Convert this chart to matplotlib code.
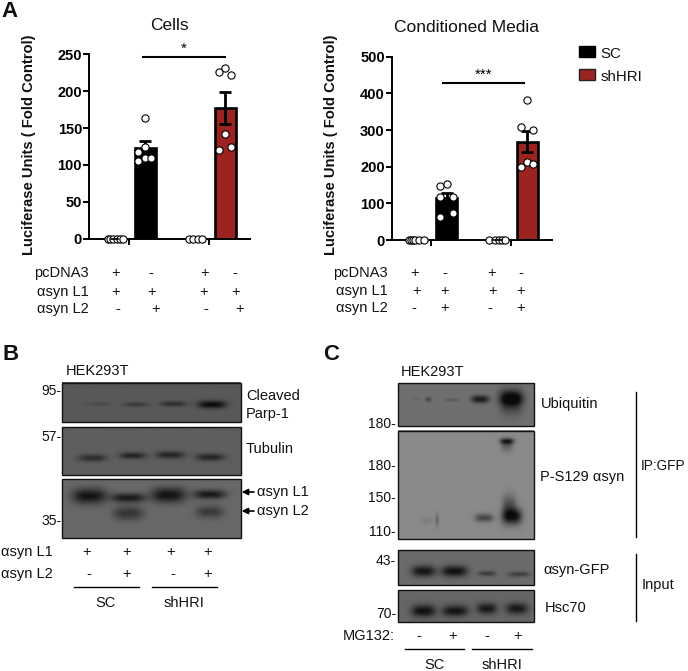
#!/usr/bin/env python3
import numpy as np
import matplotlib
matplotlib.use('Agg')
import matplotlib.pyplot as plt
from matplotlib.patches import Rectangle

plt.rcParams['font.family'] = ['Liberation Sans', 'DejaVu Sans']

W, H = 688, 671
RED = '#9b2320'

# bar charts: x slots are 0,1 (SC) and 2.67,3.67 (shHRI)
x_slots = [0, 1, 2.67, 3.67]
bar_colors = ['black', RED]

cells_means = [123, 177]
cells_err_hi = [132.5, 199]
cells_err_lo = [113, 155.5]
cells_ctrl1_x = [-0.25, -0.17, -0.08, 0.08, 0.17, 0.25]
cells_ctrl2_x = [-0.22, -0.07, 0.08, 0.23]
cells_pts1_x = [0, -0.22, 0, 0.2, -0.22, 0]
cells_pts1 = [164, 117, 110, 110, 105, 125]
cells_pts2_x = [-0.21, 0, 0.21, 0, -0.21, 0.21]
cells_pts2 = [225.6, 232, 221.5, 141.5, 120.7, 125]

media_means = [114, 267]
media_err_hi = [129, 298]
media_err_lo = [98, 239]
media_ctrl1_x = [-0.27, -0.2, -0.13, -0.05, 0.08, 0.25]
media_ctrl2_x = [-0.25, -0.08, 0.08, 0.17, 0.27]
media_pts1_x = [-0.21, 0, -0.21, 0.21, -0.21, 0.21]
media_pts1 = [148, 153.6, 116, 116, 63.6, 74.5]
media_pts2_x = [0, -0.21, 0.21, -0.21, 0, 0.21]
media_pts2 = [382.7, 307, 301, 199, 213, 208]

# blots: (x, y, sigma x, sigma y, strength) in figure pixels
blot_b1 = [(98, 404.3, 12, 1.8, .2), (136, 404.7, 12, 2.2, .4), (173.3, 404, 13, 2.6, .55), (211.7, 404.7, 14, 3.8, 1.0)]
blot_b2 = [(92.3, 458, 14, 3.5, .6), (132.7, 455.7, 13, 3.2, .7), (170, 455, 14, 3.5, .7), (210, 457.3, 14, 3.5, .7)]
blot_b3 = [(89.3, 496, 17, 7.5, .9), (128.3, 497.7, 17, 4.5, .85), (168.3, 495, 17, 7.5, .9), (209.3, 494.3, 16, 4.5, .85),
           (128.3, 513, 15, 7, .55), (209.3, 511.7, 14, 6, .5)]
blot_c1 = [(428.3, 399.3, 3, 2.5, .4), (416, 399.3, 5, 1.5, .1), (451.7, 400, 8, 2, .2), (480, 399.3, 9, 3.8, .85),
           (511, 398.3, 12, 8, 1.0), (511, 405, 11, 12, .35)]
blot_c2 = [(506.7, 441.7, 7, 3, .85), (506.7, 447, 6, 5, .3), (511.7, 516.7, 10, 8, 1.0), (509, 505, 7, 10, .4),
           (484, 518.3, 9, 4, .55), (436.7, 520.7, 2, 6, .25), (426.7, 521, 5, 3, .1)]
blot_c3 = [(423.3, 571, 12, 5.5, .9), (454.3, 571, 13, 5.5, .95), (486.7, 573.3, 9, 2.6, .5), (518.3, 574, 11, 2.6, .45)]
blot_c4 = [(423.3, 610.7, 12, 6, .95), (455, 610.7, 13, 5.5, .9), (486.7, 608.3, 10, 5.5, .85), (516.7, 608.3, 11, 5.5, .85)]

table_left = [('+', '-', '+', '-'), ('+', '+', '+', '+'), ('-', '+', '-', '+')]
table_names = ['pcDNA3', 'αsyn L1', 'αsyn L2']


def px_axes(fig, l, t, r, b):
    return fig.add_axes([l / W, 1 - b / H, (r - l) / W, (b - t) / H])


def bar_chart(fig, box, ymax, yticks, xlim, means, hi, lo, ctrl, pts, sig_x, sig_y, stars, ctrl_mark):
    ax = px_axes(fig, *box)
    ax.patch.set_alpha(0)
    ax.set_xlim(*xlim)
    ax.set_ylim(0, ymax)
    for i, c in enumerate(bar_colors):
        x = x_slots[2 * i + 1]
        ax.bar(x, means[i], width=0.7, color=c, edgecolor='black', linewidth=1.9, zorder=2)
        ax.errorbar(x, means[i], yerr=[[means[i] - lo[i]], [hi[i] - means[i]]], color='black',
                    elinewidth=2, capsize=4.5, capthick=2, zorder=3)
        ax.scatter(np.array(ctrl[i]) + x_slots[2 * i], np.zeros(len(ctrl[i])), s=27, facecolor='white',
                   edgecolor='black', linewidth=0.8, clip_on=False, zorder=4)
        ax.plot(x + np.array(pts[i][0]), pts[i][1], 'o', ms=5.2, mfc='white', mec='black', mew=0.8,
                clip_on=False, zorder=4)
    # short mean line showing through one of the control clusters
    ax.plot(ctrl_mark, [0, 0], color='black', lw=1.2, clip_on=False, zorder=5)
    ax.plot(sig_x, [sig_y, sig_y], color='black', lw=1.5, clip_on=False)
    ax.text(np.mean(sig_x), sig_y * 1.005, stars, ha='center', va='bottom', fontsize=11)
    for s in ['top', 'right']:
        ax.spines[s].set_visible(False)
    for s in ['left', 'bottom']:
        ax.spines[s].set_linewidth(1.4)
    ax.set_yticks(yticks)
    ax.set_xticks([0.47, 3.14])
    ax.set_xticklabels([])
    ax.tick_params(axis='both', width=1.4, length=4)
    ax.tick_params(axis='y', labelsize=10.5, pad=1)
    for lab in ax.get_yticklabels():
        lab.set_fontweight('bold')
    return ax


def draw_blot(ax, l, t, r, b, bg, bands):
    xx, yy = np.meshgrid(np.arange(l, r, 0.5), np.arange(t, b, 0.5))
    dark = np.zeros_like(xx)
    for x, y, sx, sy, k in bands:
        dark += k * np.exp(-np.abs((xx - x) / sx)**3 - ((yy - y) / sy)**2)
    img = bg * (1 - np.clip(dark, 0, 1)) + 0.04
    ax.imshow(img, cmap='gray', vmin=0, vmax=1, extent=(l, r, b, t), aspect='auto', interpolation='bilinear', zorder=1)
    ax.add_patch(Rectangle((l, t), r - l, b - t, fill=False, edgecolor='#111111', lw=1.0, zorder=2))


def txt(ax, x, y, s, ha='left', size=10.5, **kw):
    ax.text(x, y, s, ha=ha, va='center', fontsize=size, color='#111111', **kw)


def main():
    fig = plt.figure(figsize=(W / 100, H / 100), dpi=100)
    over = fig.add_axes([0, 0, 1, 1])
    over.axis('off')

    bar_chart(fig, (89, 54.3, 250, 238.7), 250, [0, 50, 100, 150, 200, 250], (-0.867, 4.5),
              cells_means, cells_err_hi, cells_err_lo, [cells_ctrl1_x, cells_ctrl2_x],
              [(cells_pts1_x, cells_pts1), (cells_pts2_x, cells_pts2)], [0.93, 3.67], 247, '*', [-0.13, 0.1])
    bar_chart(fig, (391.7, 56.7, 552, 240), 500, [0, 100, 200, 300, 400, 500], (-0.833, 4.5),
              media_means, media_err_hi, media_err_lo, [media_ctrl1_x, media_ctrl2_x],
              [(media_pts1_x, media_pts1), (media_pts2_x, media_pts2)], [0.87, 3.57], 429, '***', [2.55, 2.85])

    draw_blot(over, 62.3, 382.7, 240.7, 422, .31, blot_b1)
    draw_blot(over, 62.3, 427.3, 240.7, 475.3, .33, blot_b2)
    draw_blot(over, 62.3, 479.3, 240.7, 537.7, .37, blot_b3)
    draw_blot(over, 398, 383.3, 533.7, 426, .40, blot_c1)
    draw_blot(over, 398, 430.7, 533.7, 539.3, .50, blot_c2)
    draw_blot(over, 398, 550, 533.7, 585, .38, blot_c3)
    draw_blot(over, 398, 590, 533.7, 622, .36, blot_c4)
    over.set_xlim(0, W)
    over.set_ylim(H, 0)

    # panel letters and titles
    for x, y, s in [(1, 11.5, 'A'), (2, 355, 'B'), (323, 355, 'C')]:
        txt(over, x, y, s, size=16, fontweight='bold')
    txt(over, 169.5, 25.5, 'Cells', ha='center', size=12.5)
    txt(over, 466.5, 27.5, 'Conditioned Media', ha='center', size=12.5)
    for x in [29, 331]:
        over.text(x, 145, 'Luciferase Units ( Fold Control)', rotation=90, ha='center', va='center',
                  fontsize=10.6, fontweight='bold', color='#111111')

    # legend
    over.add_patch(Rectangle((579.3, 45.7), 15.7, 11.6, fc='black', ec='black', lw=1))
    over.add_patch(Rectangle((579.3, 69.3), 15.7, 11, fc=RED, ec='#222222', lw=1))
    txt(over, 600.7, 54, 'SC', size=10.8)
    txt(over, 600.7, 77, 'shHRI', size=10.8)

    # condition tables under the charts
    rows_a = [273, 291.7, 309]
    xs_a = [(116, 150.7, 204.7, 235.3), (115.3, 151.3, 203.3, 235.3), (117.7, 155.3, 206, 240)]
    rows_m = [272.7, 291, 308.3]
    xs_m = [(414.7, 445.3, 491.3, 521.3), (416.7, 445, 492.7, 521), (414, 444.3, 490.3, 520.7)]
    for rows, xs, right in [(rows_a, xs_a, 88.5), (rows_m, xs_m, 387.5)]:
        for name, y, col, signs in zip(table_names, rows, xs, table_left):
            txt(over, right, y, name, ha='right')
            for x, s in zip(col, signs):
                txt(over, x, y, s, ha='center')

    # blot B
    txt(over, 65.3, 371, 'HEK293T')
    for y, s in [(390.7, '95-'), (437, '57-'), (521.3, '35-')]:
        txt(over, 61.5, y, s, ha='right', size=10)
    txt(over, 246, 396, 'Cleaved')
    txt(over, 246, 414, 'Parp-1')
    txt(over, 246, 449.3, 'Tubulin')
    for y, s in [(492, 'αsyn L1'), (511, 'αsyn L2')]:
        txt(over, 257.3, y, s)
        over.annotate('', xy=(241.7, y), xytext=(254, y),
                      arrowprops=dict(arrowstyle='-|>', color='black', lw=1.2, mutation_scale=9, shrinkA=0, shrinkB=0))
    txt(over, 1, 551.7, 'αsyn L1')
    txt(over, 1, 574.3, 'αsyn L2')
    for x, s in zip((87, 126.7, 171, 207.3), '++++'):
        txt(over, x, 551.7, s, ha='center')
    for x, s in zip((89, 127, 173.3, 207.7), '-+-+'):
        txt(over, x, 574.3, s, ha='center')
    for x0, x1, xc, s in [(74, 138.7, 105.7, 'SC'), (152, 216.7, 184, 'shHRI')]:
        over.plot([x0, x1], [587, 587], color='black', lw=1)
        txt(over, xc, 603.3, s, ha='center')

    # blot C
    txt(over, 400.7, 372.3, 'HEK293T')
    for y, s in [(424, '180-'), (466, '180-'), (498.3, '150-'), (531.7, '110-'), (561.3, '43-'), (614, '70-')]:
        txt(over, 396, y, s, ha='right', size=10)
    txt(over, 541, 404, 'Ubiquitin')
    txt(over, 540, 477.3, 'P-S129 αsyn')
    txt(over, 543.3, 570, 'αsyn-GFP')
    txt(over, 544.3, 608.3, 'Hsc70')
    over.plot([635.7, 635.7], [392.3, 537.3], color='black', lw=1)
    over.plot([635.7, 635.7], [554.3, 621], color='black', lw=1)
    txt(over, 641, 466, 'IP:GFP', size=9.8)
    txt(over, 641.7, 585.3, 'Input')
    txt(over, 342.3, 636, 'MG132:')
    for x, s in zip((418.7, 452.7, 487.3, 517.7), '-+-+'):
        txt(over, x, 636, s, ha='center')
    for x0, x1, xc, s in [(404.7, 464, 434, 'SC'), (472.3, 531.7, 502, 'shHRI')]:
        over.plot([x0, x1], [649.3, 649.3], color='black', lw=1)
        txt(over, xc, 665, s, ha='center')

    fig.savefig('out.png', dpi=100)
    plt.close(fig)


if __name__ == '__main__':
    main()
